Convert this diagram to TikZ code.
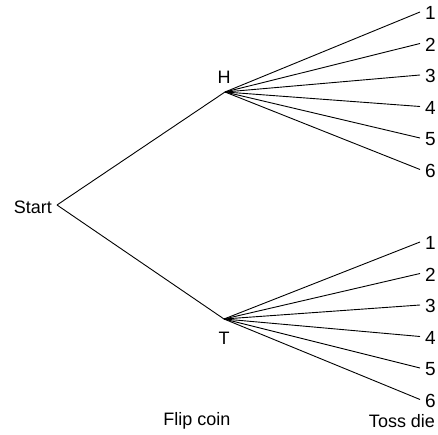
\documentclass[tikz,border=0pt]{standalone}
\usepackage{fontspec}
\setmainfont{Liberation Sans}
\begin{document}
\begin{tikzpicture}[x=1pt,y=-1pt,
  lbl/.style={font=\fontsize{18}{20}\selectfont, inner sep=0pt},
  leaf/.style={font=\fontsize{19}{21}\selectfont, anchor=west, inner sep=0pt, xshift=5pt, yshift=-1pt},
  edge/.style={line width=0.9pt, black}]
\useasboundingbox (0,0) rectangle (438,435);
% vertices
\coordinate (s) at (57,205);
\coordinate (h) at (225,92);
\coordinate (t) at (224,319);
\node[lbl, anchor=east] (start) at (52,207) {Start};
\node[lbl] (hl) at (224,77) {H};
\node[lbl] (tl) at (224,338) {T};
\draw[edge] (s) -- (h);
\draw[edge] (s) -- (t);
\foreach \i/\y in {1/12,2/43.5,3/75,4/106.5,5/138,6/169.5}{
  \coordinate (he\i) at (420,\y);
  \node[leaf] (hn\i) at (he\i) {\i};
  \draw[edge] (h) -- (he\i);
}
\foreach \i/\y in {1/242,2/273.5,3/305,4/336.5,5/368,6/399.5}{
  \coordinate (te\i) at (420,\y);
  \node[leaf] (tn\i) at (te\i) {\i};
  \draw[edge] (t) -- (te\i);
}
\node[lbl] (flip) at (197,421) {Flip coin};
\node[lbl] (toss) at (402,421) {Toss die};
\end{tikzpicture}
\end{document}
